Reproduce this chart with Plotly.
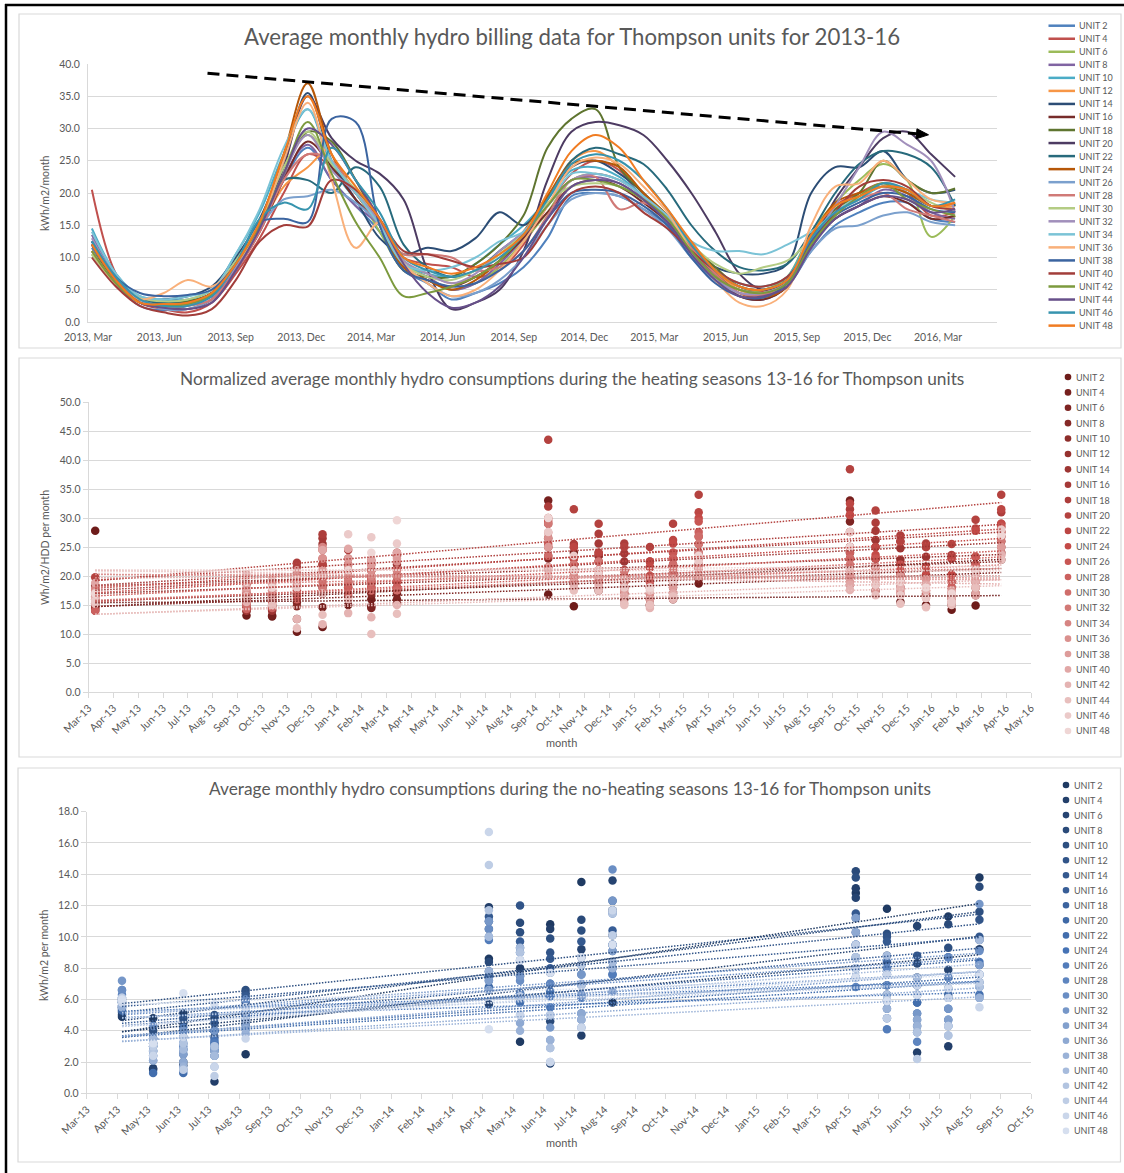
import numpy as np
import pandas as pd
import plotly.graph_objects as go

W, H = 1124, 1173
FONT = "Lato"
GREY_TXT = "#595959"
GRID = "#D9D9D9"

units = ["UNIT 2", "UNIT 4", "UNIT 6", "UNIT 8", "UNIT 10", "UNIT 12", "UNIT 14", "UNIT 16",
         "UNIT 18", "UNIT 20", "UNIT 22", "UNIT 24", "UNIT 26", "UNIT 28", "UNIT 30", "UNIT 32",
         "UNIT 34", "UNIT 36", "UNIT 38", "UNIT 40", "UNIT 42", "UNIT 44", "UNIT 46", "UNIT 48"]

# ---------------- chart 1: monthly billing (kWh/m2/month), Mar 2013 .. Mar 2016
bill_U2 = [11.5, 6.0, 2.5, 1.8, 2.5, 4.0, 8.5, 14.5, 22, 27, 22, 18, 14, 8, 6, 3.5, 4.5, 6, 8.5, 13, 19.5, 20, 19.5, 17.5, 15, 10, 7, 4, 3.5, 5.5, 11, 15, 17, 18.5, 18.5, 16, 15.5]
bill_U4 = [20.5, 7.5, 3.0, 2.0, 1.5, 3.0, 7.5, 13, 20, 26, 24, 20, 15, 10, 9, 8.5, 7, 8, 12, 18, 23, 25, 23.5, 19, 16, 12, 8, 5.5, 4.8, 6, 13, 18, 20, 21.5, 20, 16.5, 17]
bill_U6 = [10.5, 6.5, 3.5, 3.0, 3.2, 4.5, 9, 15, 24, 29, 24, 20, 14, 8, 6.5, 5, 6, 8.5, 12.5, 17, 22, 23, 22, 19.5, 16, 11.5, 7.5, 5, 5, 7, 14, 18.5, 22, 24.5, 22, 13.2, 16.5]
bill_U8 = [13.5, 7, 3.5, 2.5, 2.8, 4.0, 8.5, 14.5, 22.5, 27.5, 22, 18, 15, 9, 7, 5, 6, 9, 13, 18, 22, 22.5, 21.5, 19, 16, 11, 7.5, 5, 4.5, 6, 12, 16, 18, 20.5, 19.5, 17, 16]
bill_U10 = [14.5, 7.5, 4.0, 3.5, 3.5, 5.0, 10.5, 17, 26, 33, 24, 19, 15, 9, 7.5, 7, 9, 12, 15, 19, 23.5, 24, 22.5, 19.5, 16, 12, 8, 6, 5.5, 7, 13.5, 17, 19, 21, 20, 18, 18]
bill_U12 = [12, 6.5, 3, 2.5, 3, 4.5, 9, 14.5, 21, 24, 27, 22, 16, 9.5, 7.5, 6, 7, 9.5, 13.5, 19, 25, 26.5, 24, 20, 16.5, 12, 8, 5, 4.5, 6.5, 13, 17.5, 19.5, 21, 20.5, 18, 18]
bill_U14 = [12.5, 7, 3.5, 3.5, 4, 5.5, 10, 16, 25, 35.5, 25, 19, 13, 10.5, 11.5, 11, 13, 17, 15, 19.5, 24, 25, 23, 20, 16, 11.5, 8.5, 7.5, 7.5, 9, 20, 24, 24, 26.5, 22, 20, 20.5]
bill_U16 = [11, 6, 3, 2.2, 2.0, 3.5, 8, 14, 22, 28, 24, 19, 15, 8.5, 6.5, 5.5, 7, 9.5, 13, 17, 21, 22, 21, 18.5, 15.5, 11, 7, 4, 3.5, 5.5, 12, 16, 18, 19.5, 18.5, 16, 16.5]
bill_U18 = [11, 6.5, 3.5, 3.0, 3.2, 4.5, 9, 15, 23, 29.5, 28, 22, 15, 8, 7, 7, 9, 12, 16.5, 27, 31.5, 33, 24, 20, 16.5, 12, 8.5, 5.5, 5, 6.5, 13, 17.5, 20, 25, 22, 20, 20.7]
bill_U20 = [12, 7, 3.5, 2.8, 3, 4.5, 9, 15, 24, 35, 28.5, 25, 23, 19, 8, 2, 3, 5, 11, 22, 29.5, 31, 30.5, 29, 25, 20, 14, 7.5, 5, 6.5, 12, 19, 24, 28.5, 29.5, 26, 22.5]
bill_U22 = [12, 7, 3.5, 3, 3, 4.5, 9.5, 15.5, 22, 22, 20, 24, 21, 12, 8.5, 7, 8, 11, 14, 19, 25, 27, 26, 24.5, 20.5, 15, 11, 8.5, 8, 9, 14, 20, 24.5, 26.5, 26, 24, 18]
bill_U24 = [12, 6.5, 3, 2.5, 3, 4.5, 9, 15.5, 26, 37, 26, 20, 15, 8.5, 6.5, 5, 6.5, 9.5, 14, 19.5, 24.5, 25, 24, 20, 16.5, 11.5, 7.5, 4.5, 3.8, 5.5, 13, 18.5, 20, 21, 20, 18, 18.5]
bill_U26 = [12.5, 7, 3.5, 2.0, 2.0, 3.5, 8, 14.5, 19, 19.5, 20.5, 18.5, 15, 9, 6, 4, 4.5, 6.5, 10, 15, 19, 20, 19.5, 17.5, 14.5, 10, 6.5, 4.5, 4.5, 6, 11, 14.5, 15, 16.5, 17, 15.5, 15]
bill_U28 = [11, 6, 3, 2.3, 2.5, 3.5, 8, 14, 22, 26, 25, 20, 15, 10.5, 10.5, 10, 8, 8.5, 11, 16.5, 22, 22.5, 17.5, 18.5, 16, 11.5, 7.5, 4.5, 4.2, 6, 12.5, 17, 19, 20, 17.5, 16.5, 15.5]
bill_U30 = [10.5, 6, 3.8, 3.2, 3.5, 5, 9.5, 15.5, 24, 29.5, 24.5, 20.5, 15.5, 9, 7, 6.5, 8, 10.5, 14, 18.5, 21, 21.5, 21, 19, 16, 12, 9, 7.5, 8.5, 9.5, 13, 17, 19.5, 21.5, 20.5, 18.5, 17]
bill_U32 = [13, 7, 3.5, 2.5, 2.8, 4.2, 8.5, 14.5, 23, 29, 23.5, 20, 15.5, 9.5, 7.5, 6, 7.5, 11, 14, 18, 22, 23, 22, 19.5, 16, 11, 7, 4.5, 4.5, 6, 12.5, 18, 24, 29.5, 27.5, 25, 17]
bill_U34 = [14, 7.5, 4, 3.5, 4, 5, 10.5, 17.5, 27, 33, 25, 20, 15, 9, 8, 8.5, 10, 12.5, 14, 18, 23, 23, 22, 19.5, 16.5, 12.5, 11, 11, 10.5, 12, 14, 17, 19.5, 21, 20.5, 19, 18.5]
bill_U36 = [11, 6, 3.5, 4.5, 6.5, 5.5, 9, 15, 25, 34, 22, 11.5, 15.5, 9, 6, 4, 5, 8, 12.5, 18, 24, 25.5, 24.5, 21, 17, 11, 6.5, 3, 2.5, 5, 15, 21, 21.5, 25, 22, 19, 18.5]
bill_U38 = [12.5, 7, 4.5, 4.0, 4.2, 5, 9, 15.5, 16, 15.5, 31.5, 31, 15, 8, 6.5, 5.5, 6, 8, 11, 16, 20, 20.5, 20, 18, 15, 10, 6, 4, 3.8, 6, 12.5, 16.5, 18.5, 20, 19.5, 17.5, 17]
bill_U40 = [10, 5.5, 2.5, 1.5, 1.0, 2.0, 6.5, 12.5, 15, 14.8, 22, 20.5, 16, 11, 10.5, 9.5, 8.5, 9, 10, 15, 20, 21, 20, 17, 14.5, 11, 8, 6, 5.5, 7, 12, 17, 21, 22, 21, 18, 17.5]
bill_U42 = [11, 6, 3, 2.5, 2.8, 4.2, 9, 15, 23, 31, 23, 15.5, 10, 4, 4.5, 5.5, 7, 9.5, 13.5, 18, 22, 22, 21, 19, 16, 11, 7, 5, 4.5, 6, 12, 16.5, 19.5, 21.5, 19, 17.5, 16.5]
bill_U44 = [12, 6.5, 3, 2.2, 2.0, 3.0, 8, 14.5, 23, 30, 27.5, 22, 16, 9, 4.5, 2.2, 3, 5.5, 10, 16, 21, 22, 21.5, 19, 15.5, 10.5, 6.5, 4, 4, 5.5, 11.5, 16, 18, 19.5, 19, 17, 17.5]
bill_U46 = [12.5, 7, 3.5, 2.5, 2.5, 4, 9, 16, 18.5, 17.5, 27, 22, 17, 10, 8, 7, 8, 10, 13.5, 19, 24.5, 26, 25, 22, 17.5, 12, 8, 5.5, 5, 6.5, 13, 17, 19, 21.5, 20.5, 18, 19]
bill_U48 = [12, 6.5, 3, 2.8, 3.0, 4.5, 9, 15.5, 26, 35, 26, 21, 16, 10, 8.5, 7.5, 8.5, 10.5, 13.5, 20, 26.5, 29, 27, 22, 17.5, 12.5, 8, 5.5, 5, 6.5, 13.5, 18, 19.5, 21, 20.5, 18, 18.5]

bill_series = [bill_U2, bill_U4, bill_U6, bill_U8, bill_U10, bill_U12, bill_U14, bill_U16,
               bill_U18, bill_U20, bill_U22, bill_U24, bill_U26, bill_U28, bill_U30, bill_U32,
               bill_U34, bill_U36, bill_U38, bill_U40, bill_U42, bill_U44, bill_U46, bill_U48]
# billing dates (one bill per month, Mar 2013 .. Mar 2016)
bill_dates = pd.date_range("2013-03-06", "2016-03-23", periods=37)

# ---------------- chart 2: heating seasons (Wh/m2/HDD per month)
heat_months = ["2013-03", "2013-09", "2013-10", "2013-11", "2013-12", "2014-01", "2014-02", "2014-03",
               "2014-09", "2014-10", "2014-11", "2014-12", "2015-01", "2015-02", "2015-03",
               "2015-09", "2015-10", "2015-11", "2015-12", "2016-01", "2016-02", "2016-03"]
heat_U2 = [27.8, 13.2, 13.0, 10.4, 11.2, 15.0, 14.8, 15.2, 16.8, 14.8, 17.5, 16.0, 15.0, 16.0, 18.7, 18.5, 17.5, 15.5, 15.0, 14.2, 14.9, 22.8]
heat_U4 = [14.3, 14.0, 13.2, 12.6, 14.6, 16.5, 16.0, 17.0, 33.0, 24.0, 23.5, 18.0, 17.0, 19.0, 22.0, 33.0, 23.0, 19.0, 17.0, 16.2, 16.7, 24.0]
heat_U6 = [15.0, 14.5, 14.2, 15.5, 17.0, 18.0, 14.5, 16.0, 23.0, 19.0, 19.0, 17.0, 15.0, 17.0, 19.5, 29.4, 20.5, 18.0, 16.7, 15.0, 17.0, 25.0]
heat_U8 = [16.0, 15.5, 14.8, 14.8, 18.0, 19.0, 17.0, 18.0, 21.5, 20.0, 21.0, 19.0, 16.0, 18.0, 20.0, 24.0, 21.5, 20.2, 18.5, 17.0, 18.0, 26.0]
heat_U10 = [17.0, 16.0, 15.5, 17.0, 20.0, 20.0, 18.0, 19.0, 23.5, 21.0, 22.5, 20.0, 18.0, 20.0, 21.3, 23.0, 23.0, 22.0, 20.2, 18.0, 19.0, 26.8]
heat_U12 = [18.3, 17.0, 16.5, 19.0, 22.0, 21.0, 19.0, 20.0, 25.0, 22.0, 23.5, 21.0, 19.0, 21.0, 23.0, 25.0, 25.0, 22.8, 21.6, 19.0, 20.2, 27.6]
heat_U14 = [14.0, 14.0, 14.0, 20.5, 25.5, 22.0, 21.0, 22.0, 26.5, 23.0, 24.0, 22.5, 20.0, 22.0, 24.0, 27.6, 26.2, 24.8, 23.3, 20.2, 21.0, 28.5]
heat_U16 = [14.5, 14.5, 15.0, 21.5, 26.5, 23.0, 22.0, 23.5, 29.0, 25.0, 25.6, 23.9, 21.5, 23.0, 25.5, 30.5, 27.8, 26.0, 25.0, 23.0, 22.0, 29.0]
heat_U18 = [15.3, 15.0, 16.0, 22.3, 27.2, 24.5, 22.7, 24.0, 32.0, 25.5, 27.3, 25.6, 22.5, 24.0, 26.8, 31.5, 29.2, 27.0, 25.6, 23.6, 23.3, 31.0]
heat_U20 = [19.8, 18.6, 17.5, 18.0, 22.0, 21.0, 20.0, 23.5, 43.5, 31.5, 29.0, 25.0, 25.0, 29.0, 34.0, 38.4, 31.3, 26.0, 25.0, 25.5, 29.7, 34.0]
heat_U22 = [17.5, 16.5, 17.0, 17.5, 24.5, 20.0, 21.0, 21.0, 30.0, 25.0, 24.0, 21.0, 22.5, 26.2, 31.0, 32.5, 25.0, 22.0, 21.6, 23.0, 28.2, 31.5]
heat_U24 = [16.8, 15.5, 16.0, 17.0, 23.0, 19.0, 19.5, 20.0, 29.5, 23.0, 22.5, 20.0, 21.5, 25.6, 30.0, 30.5, 23.6, 21.0, 20.2, 20.2, 27.8, 29.0]
heat_U26 = [16.5, 15.8, 15.5, 16.5, 21.0, 18.0, 18.7, 19.0, 25.5, 21.0, 21.0, 19.0, 20.0, 24.0, 29.4, 25.0, 23.0, 20.2, 19.5, 19.0, 23.3, 28.5]
heat_U28 = [14.0, 14.3, 14.5, 16.0, 20.0, 18.5, 18.0, 18.0, 25.0, 20.0, 20.2, 18.0, 19.0, 23.0, 27.6, 24.0, 21.5, 19.0, 18.5, 18.0, 22.0, 27.6]
heat_U30 = [15.5, 15.0, 15.0, 17.0, 19.0, 17.0, 17.5, 17.5, 23.5, 19.0, 19.0, 17.0, 18.0, 22.0, 26.8, 23.0, 20.5, 18.0, 17.5, 17.0, 21.0, 26.8]
heat_U32 = [16.3, 16.0, 16.5, 18.5, 18.0, 19.0, 19.0, 20.0, 29.0, 22.0, 22.5, 20.8, 17.0, 21.0, 25.5, 22.0, 19.5, 17.0, 16.7, 16.2, 20.2, 26.0]
heat_U34 = [17.8, 17.5, 17.0, 19.5, 25.0, 20.0, 20.0, 21.0, 27.5, 21.0, 21.0, 19.0, 16.0, 20.0, 24.0, 21.0, 18.5, 16.7, 16.2, 15.5, 19.0, 25.0]
heat_U36 = [16.8, 17.0, 18.0, 20.0, 23.0, 22.0, 21.0, 22.5, 26.5, 20.0, 20.0, 18.0, 17.0, 19.0, 23.0, 20.0, 17.5, 17.5, 17.5, 16.5, 18.0, 24.0]
heat_U38 = [17.2, 16.5, 17.5, 21.0, 21.0, 23.0, 22.0, 23.0, 25.0, 19.0, 19.5, 17.5, 16.0, 18.0, 22.0, 19.0, 21.5, 20.0, 19.5, 17.5, 17.0, 25.0]
heat_U40 = [18.8, 18.0, 18.5, 19.0, 24.5, 24.7, 22.7, 24.0, 21.5, 18.5, 18.5, 16.5, 15.0, 17.0, 21.3, 18.5, 20.5, 19.0, 18.5, 17.0, 16.7, 23.6]
heat_U42 = [16.2, 15.5, 16.0, 12.6, 11.7, 13.6, 12.9, 15.0, 21.0, 18.0, 18.0, 15.3, 14.5, 16.0, 20.0, 17.6, 19.5, 18.0, 17.5, 16.2, 19.0, 23.6]
heat_U44 = [15.2, 16.5, 15.0, 11.0, 13.3, 16.0, 10.0, 13.5, 20.0, 17.5, 17.5, 15.0, 15.0, 16.5, 20.0, 21.0, 16.7, 15.2, 14.6, 15.0, 18.0, 22.8]
heat_U46 = [15.7, 20.3, 19.5, 18.0, 17.0, 27.2, 26.7, 25.6, 27.6, 23.5, 20.2, 18.0, 17.5, 19.0, 22.5, 27.6, 18.5, 16.7, 16.2, 15.5, 20.2, 28.0]
heat_U48 = [17.0, 19.0, 18.0, 19.5, 20.0, 21.0, 24.0, 29.6, 30.0, 21.0, 21.0, 19.5, 18.0, 19.5, 23.5, 25.0, 20.2, 19.0, 18.0, 17.0, 21.0, 27.0]
heat_series = [heat_U2, heat_U4, heat_U6, heat_U8, heat_U10, heat_U12, heat_U14, heat_U16,
               heat_U18, heat_U20, heat_U22, heat_U24, heat_U26, heat_U28, heat_U30, heat_U32,
               heat_U34, heat_U36, heat_U38, heat_U40, heat_U42, heat_U44, heat_U46, heat_U48]

# ---------------- chart 3: no-heating seasons (kWh/m2 per month)
noheat_months = ["2013-04", "2013-05", "2013-06", "2013-07", "2013-08",
                 "2014-04", "2014-05", "2014-06", "2014-07", "2014-08",
                 "2015-04", "2015-05", "2015-06", "2015-07", "2015-08"]
noheat_U2 = [4.9, 4.8, 5.1, 4.0, 2.5, 8.6, 3.3, 10.8, 13.5, 5.8, 12.8, 11.8, 7.4, 11.3, 13.8]
noheat_U4 = [5.0, 1.6, 1.8, 0.75, 4.4, 11.9, 8.0, 10.5, 3.7, 11.7, 13.1, 8.8, 2.6, 3.0, 9.2]
noheat_U6 = [5.2, 1.5, 2.0, 4.8, 5.0, 5.7, 7.5, 1.9, 9.2, 13.6, 12.5, 6.3, 10.7, 7.9, 8.2]
noheat_U8 = [5.5, 4.3, 4.5, 3.6, 5.5, 8.4, 10.9, 4.6, 11.1, 10.1, 14.2, 6.9, 8.3, 10.8, 13.2]
noheat_U10 = [6.0, 4.0, 4.8, 5.0, 6.6, 10.5, 10.3, 9.9, 10.4, 9.5, 13.8, 10.2, 6.9, 9.3, 11.6]
noheat_U12 = [5.8, 3.5, 4.0, 3.2, 6.4, 11.0, 12.0, 9.0, 8.7, 8.0, 11.2, 10.0, 8.8, 7.4, 11.1]
noheat_U14 = [5.4, 3.2, 3.6, 4.5, 6.2, 11.3, 9.3, 8.6, 9.7, 12.3, 11.5, 9.7, 4.3, 6.7, 10.0]
noheat_U16 = [6.1, 2.7, 2.5, 2.7, 5.8, 7.8, 9.7, 8.0, 6.9, 10.4, 10.3, 5.9, 5.8, 8.7, 9.8]
noheat_U18 = [5.6, 3.0, 2.8, 3.0, 5.2, 7.5, 6.2, 7.7, 8.2, 9.1, 9.5, 8.4, 6.3, 6.3, 7.6]
noheat_U20 = [5.3, 2.1, 1.5, 2.4, 4.7, 6.8, 6.4, 7.0, 6.3, 8.4, 8.7, 5.4, 5.1, 6.1, 7.1]
noheat_U22 = [5.8, 1.3, 1.3, 4.0, 4.1, 6.6, 5.8, 6.5, 5.1, 7.6, 8.0, 7.6, 5.8, 4.7, 6.3]
noheat_U24 = [6.6, 3.5, 3.2, 3.4, 6.0, 7.2, 9.0, 6.2, 7.6, 9.5, 7.4, 4.8, 4.7, 5.4, 8.4]
noheat_U26 = [5.9, 2.4, 4.2, 3.2, 5.0, 9.8, 6.4, 5.5, 6.1, 7.6, 9.5, 4.1, 3.9, 4.3, 6.8]
noheat_U28 = [6.3, 3.0, 2.8, 2.8, 4.7, 10.0, 8.5, 7.0, 4.7, 11.5, 6.8, 8.0, 3.3, 8.7, 6.1]
noheat_U30 = [6.6, 4.3, 3.0, 3.0, 6.0, 10.5, 7.2, 5.0, 4.2, 14.3, 8.0, 6.9, 6.9, 7.4, 9.1]
noheat_U32 = [7.2, 2.7, 4.0, 4.0, 5.2, 11.0, 7.5, 4.2, 7.6, 12.3, 9.5, 7.6, 5.1, 5.4, 12.1]
noheat_U34 = [5.6, 3.2, 2.5, 2.4, 4.4, 7.2, 5.0, 3.4, 6.3, 9.1, 11.2, 6.3, 6.3, 4.7, 8.2]
noheat_U36 = [6.0, 2.4, 2.0, 2.7, 3.8, 6.6, 4.5, 2.9, 5.1, 6.5, 10.3, 5.9, 4.7, 4.3, 7.6]
noheat_U38 = [5.5, 2.1, 1.7, 1.7, 4.1, 7.8, 4.0, 3.4, 4.7, 8.0, 8.7, 5.4, 4.3, 3.7, 6.1]
noheat_U40 = [6.1, 3.5, 2.8, 2.4, 4.7, 10.0, 9.3, 2.0, 7.0, 8.4, 7.4, 8.8, 7.4, 4.3, 9.8]
noheat_U42 = [5.9, 2.7, 3.2, 3.0, 5.5, 11.7, 9.0, 2.9, 6.9, 11.5, 8.7, 6.3, 3.9, 3.7, 6.8]
noheat_U44 = [6.1, 3.0, 1.5, 1.1, 5.2, 14.6, 6.2, 5.0, 8.2, 10.1, 9.5, 4.8, 2.2, 4.3, 7.1]
noheat_U46 = [5.8, 2.4, 3.6, 1.7, 3.5, 16.7, 5.0, 2.0, 4.2, 11.7, 8.0, 7.6, 6.9, 6.1, 5.5]
noheat_U48 = [6.0, 3.2, 6.4, 5.7, 5.5, 4.1, 8.5, 7.7, 8.7, 9.5, 7.4, 5.9, 6.3, 6.7, 7.6]
noheat_series = [noheat_U2, noheat_U4, noheat_U6, noheat_U8, noheat_U10, noheat_U12, noheat_U14, noheat_U16,
                 noheat_U18, noheat_U20, noheat_U22, noheat_U24, noheat_U26, noheat_U28, noheat_U30, noheat_U32,
                 noheat_U34, noheat_U36, noheat_U38, noheat_U40, noheat_U42, noheat_U44, noheat_U46, noheat_U48]

# ---------------- styles
line_colors = ["#4F81BD", "#C0504D", "#9BBB59", "#8064A2", "#4BACC6", "#F79646",
               "#2C4D75", "#772C2A", "#5F7530", "#4D3B62", "#276A7C", "#B65708",
               "#7BA0CD", "#D07A77", "#B4CC84", "#A18FBB", "#7BC3D6", "#F9B07A",
               "#3B64A0", "#A23D3A", "#7C9A3E", "#67508A", "#3794AE", "#F07C22"]


def hex2rgb(h):
    h = h.lstrip("#")
    return [int(h[i:i + 2], 16) for i in (0, 2, 4)]


def ramp(anchors, n):
    out = []
    for i in range(n):
        for (p0, c0), (p1, c1) in zip(anchors[:-1], anchors[1:]):
            if p0 <= i <= p1:
                t = (i - p0) / (p1 - p0)
                a, b = hex2rgb(c0), hex2rgb(c1)
                rgb = [round(a[k] + (b[k] - a[k]) * t) for k in range(3)]
                out.append("#%02X%02X%02X" % tuple(rgb))
                break
    return out


red_colors = ramp([(0, "#6E1C1A"), (11, "#C44A47"), (23, "#EFD6D5")], 24)
blue_colors = ramp([(0, "#1F3A62"), (11, "#4673B5"), (23, "#D6DFEF")], 24)


def px(x):
    return x / W


def py(y):
    return 1 - y / H


fig = go.Figure()

# ---- chart 1 traces
for name, vals, col in zip(units, bill_series, line_colors):
    fig.add_trace(go.Scatter(x=bill_dates, y=vals, mode="lines", name=name,
                             line=dict(color=col, width=2, shape="spline", smoothing=1.0),
                             xaxis="x", yaxis="y", showlegend=False))


# ---- chart 2 & 3: scatter + linear trendlines
def month_end(months):
    return [pd.Period(m, "M").to_timestamp(how="end").normalize() for m in months]


heat_dates = month_end(heat_months)
noheat_dates = month_end(noheat_months)


def add_scatter_with_trend(dates, series, colors, xa, ya):
    days = np.array([(d - pd.Timestamp("2013-01-01")).days for d in dates], dtype=float)
    for name, vals, col in zip(units, series, colors):
        fig.add_trace(go.Scatter(x=dates, y=vals, mode="markers", name=name,
                                 marker=dict(color=col, size=8.5, line=dict(width=0)),
                                 xaxis=xa, yaxis=ya, showlegend=False))
    for name, vals, col in zip(units, series, colors):
        k, b = np.polyfit(days, np.array(vals, dtype=float), 1)
        xs = [dates[0], dates[-1]]
        ys = [k * days[0] + b, k * days[-1] + b]
        fig.add_trace(go.Scatter(x=xs, y=ys, mode="lines", name=name + " trend",
                                 line=dict(color=col, width=1.5, dash="1.5px,1.5px"),
                                 xaxis=xa, yaxis=ya, showlegend=False, hoverinfo="skip"))


add_scatter_with_trend(heat_dates, heat_series, red_colors, "x2", "y2")
add_scatter_with_trend(noheat_dates, noheat_series, blue_colors, "x3", "y3")

# axis ticks for date axes (Excel-like 30-day major unit)
d0_mid = pd.Timestamp("2013-03-23")
mid_ticks = [d0_mid + pd.Timedelta(days=30 * k) for k in range(39)]
d0_bot = pd.Timestamp("2013-03-26")
bot_ticks = [d0_bot + pd.Timedelta(days=30.3 * k) for k in range(32)]

tickfont = dict(family=FONT, size=10.5, color=GREY_TXT)

layout = dict(
    width=W, height=H, margin=dict(l=0, r=0, t=0, b=0, autoexpand=False),
    paper_bgcolor="white", plot_bgcolor="white",
    font=dict(family=FONT, color=GREY_TXT),
    showlegend=False,
    xaxis=dict(domain=[px(88), px(997)], anchor="y", type="date",
               range=["2013-03-01", "2016-05-16"], tick0="2013-03-01", dtick="M3",
               tickformat="%Y, %b", showgrid=False, showline=True, linecolor=GRID,
               ticks="", tickfont=tickfont, zeroline=False, ticklabelstandoff=5,
               automargin=False),
    yaxis=dict(domain=[py(322), py(64)], anchor="x", range=[0, 40], dtick=5,
               tickformat=".1f", showgrid=True, gridcolor=GRID, showline=True,
               linecolor=GRID, ticks="", tickfont=tickfont, zeroline=False,
               ticklabelstandoff=5, automargin=False),
    xaxis2=dict(domain=[px(88.6), px(1031)], anchor="y2", type="date",
                range=[mid_ticks[0], mid_ticks[-1]], tickmode="array",
                tickvals=mid_ticks, ticktext=[t.strftime("%b-%y") for t in mid_ticks],
                tickangle=-45, showgrid=False, showline=True, linecolor=GRID,
                ticks="outside", ticklen=5, tickcolor=GRID, tickfont=tickfont,
                zeroline=False, automargin=False),
    yaxis2=dict(domain=[py(692), py(402)], anchor="x2", range=[0, 50], dtick=5,
                tickformat=".1f", showgrid=True, gridcolor=GRID, showline=True,
                linecolor=GRID, ticks="outside", ticklen=5, tickcolor=GRID,
                tickfont=tickfont, zeroline=False, automargin=False),
    xaxis3=dict(domain=[px(86.8), px(1031)], anchor="y3", type="date",
                range=[bot_ticks[0], bot_ticks[-1]], tickmode="array",
                tickvals=bot_ticks, ticktext=[t.strftime("%b-%y") for t in bot_ticks],
                tickangle=-45, showgrid=False, showline=True, linecolor=GRID,
                ticks="outside", ticklen=5, tickcolor=GRID, tickfont=tickfont,
                zeroline=False, automargin=False),
    yaxis3=dict(domain=[py(1093.3), py(811.7)], anchor="x3", range=[0, 18], dtick=2,
                tickformat=".1f", showgrid=True, gridcolor=GRID, showline=True,
                linecolor=GRID, ticks="outside", ticklen=5, tickcolor=GRID,
                tickfont=tickfont, zeroline=False, automargin=False),
)
fig.update_layout(**layout)

shapes = []
annotations = []


def text(txt, x, y, size, xanchor="center", angle=0):
    annotations.append(dict(text=txt, x=px(x), y=py(y), xref="paper", yref="paper", showarrow=False,
                            xanchor=xanchor, yanchor="middle", textangle=angle,
                            font=dict(family=FONT, size=size, color=GREY_TXT)))


# outer black frame (left + top)
shapes.append(dict(type="line", xref="paper", yref="paper", x0=px(6), x1=px(6), y0=py(4), y1=py(1173),
                   line=dict(color="black", width=2.5)))
shapes.append(dict(type="line", xref="paper", yref="paper", x0=px(5), x1=px(1124), y0=py(5), y1=py(5),
                   line=dict(color="black", width=2.5)))
# panel borders
for (x0, y0, x1, y1) in [(19, 14, 1121, 348), (19, 358, 1121, 757), (18, 768, 1120.5, 1162)]:
    shapes.append(dict(type="rect", xref="paper", yref="paper", x0=px(x0), x1=px(x1),
                       y0=py(y1), y1=py(y0), line=dict(color=GRID, width=1.2), fillcolor="rgba(0,0,0,0)"))

# dashed trend arrow on chart 1
ax0, ay0, tx, ty = 207.5, 73.3, 928.5, 134.8
ux, uy = tx - ax0, ty - ay0
L = (ux ** 2 + uy ** 2) ** 0.5
ux, uy = ux / L, uy / L
nx, ny = -uy, ux
bx, by = tx - 12 * ux, ty - 12 * uy
shapes.append(dict(type="line", xref="paper", yref="paper", x0=px(ax0), y0=py(ay0),
                   x1=px(bx), y1=py(by), line=dict(color="black", width=3, dash="12px,7px")))
p1 = (bx + 5 * nx, by + 5 * ny)
p2 = (bx - 5 * nx, by - 5 * ny)
shapes.append(dict(type="path", xref="paper", yref="paper",
                   path=f"M {px(tx)} {py(ty)} L {px(p1[0])} {py(p1[1])} L {px(p2[0])} {py(p2[1])} Z",
                   fillcolor="black", line=dict(color="black", width=1)))

# titles
text("Average monthly hydro billing data for Thompson units for 2013-16", 572, 37, 22.2)
text("Normalized average monthly hydro consumptions during the heating seasons 13-16 for Thompson units",
     572, 378, 17.3)
text("Average monthly hydro consumptions during the no-heating seasons 13-16 for Thompson units",
     570, 788, 17.3)
# axis titles
text("kWh/m2/month", 45, 193, 10.5, angle=-90)
text("Wh/m2/HDD per month", 45, 548, 10.5, angle=-90)
text("kWh/m2 per month", 44, 955, 10.5, angle=-90)
text("month", 561, 742, 11)
text("month", 561, 1142, 11)

# legends
for i, (name, col) in enumerate(zip(units, line_colors)):
    y = 25.7 + 13.04 * i
    shapes.append(dict(type="line", xref="paper", yref="paper", x0=px(1048.5), x1=px(1075), y0=py(y), y1=py(y),
                       line=dict(color=col, width=2.5)))
    text(name, 1077, y, 9, xanchor="left")
for i, (name, col) in enumerate(zip(units, red_colors)):
    y = 377 + 15.39 * i
    r = 3.3
    shapes.append(dict(type="circle", xref="paper", yref="paper", x0=px(1068 - r), x1=px(1068 + r),
                       y0=py(y + r), y1=py(y - r), fillcolor=col, line=dict(width=0)))
    text(name, 1073.5, y, 9, xanchor="left")
for i, (name, col) in enumerate(zip(units, blue_colors)):
    y = 785 + 15.04 * i
    r = 3.3
    shapes.append(dict(type="circle", xref="paper", yref="paper", x0=px(1066 - r), x1=px(1066 + r),
                       y0=py(y + r), y1=py(y - r), fillcolor=col, line=dict(width=0)))
    text(name, 1071.5, y, 9, xanchor="left")

fig.update_layout(shapes=shapes, annotations=annotations)
fig.write_html("out.html")
